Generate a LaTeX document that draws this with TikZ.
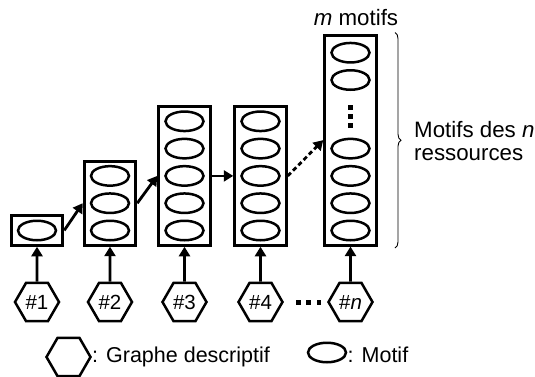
\documentclass[tikz,border=0pt]{standalone}
\usepackage{fontspec}
\setmainfont{Liberation Sans}
\usetikzlibrary{shapes.geometric,arrows.meta,decorations.pathreplacing}
\begin{document}
\begin{tikzpicture}[x=1pt,y=-1pt,
  box/.style={draw,rectangle,line width=3pt,minimum width=51.5pt,inner sep=0pt},
  motif/.style={draw,ellipse,line width=2.5pt,minimum width=38pt,minimum height=19.5pt,inner sep=0pt},
  hexa/.style={draw,regular polygon,regular polygon sides=6,minimum size=44pt,inner sep=0pt,line width=2.5pt,font=\fontsize{20.5}{24}\selectfont},
  arr/.style={line width=2.8pt,-{Triangle[width=11pt,length=9.5pt]}},
  lbl/.style={font=\fontsize{21.5}{24}\selectfont,inner sep=0pt},
  biglbl/.style={font=\fontsize{22.3}{22.5}\selectfont,inner sep=0pt}
]
\useasboundingbox (0,0) rectangle (535,376);

% boxes
\node[box,minimum height=29.7pt]  (b1) at (37,230.4) {};
\node[box,minimum height=84pt] (b2) at (110,203.2) {};
\node[box,minimum height=138.7pt] (b3) at (184.5,175.9) {};
\node[box,minimum height=138.7pt] (b4) at (260.5,175.9) {};
\node[box,minimum height=210pt] (bn) at (350.5,140.1) {};

% motifs in boxes
\node[motif] (e10) at (37,230.5) {};
\foreach \k in {0,1,2} \node[motif] (e2\k) at (110,230.5-27.3*\k) {};
\foreach \k in {0,1,2,3,4} \node[motif] (e3\k) at (184.5,230.5-27.3*\k) {};
\foreach \k in {0,1,2,3,4} \node[motif] (e4\k) at (260.5,230.5-27.3*\k) {};
\foreach \k in {0,1,2,3} \node[motif] (en\k) at (350.5,230.5-27.3*\k) {};
\node[motif] (en5) at (350.5,80) {};
\node[motif] (en6) at (350.5,52.7) {};
\foreach \y in {107.5,116.5,125.5} \fill (348.3,\y-2.2) rectangle ++(4.4,4.4);

% hexagons
\node[hexa] (h1) at (37,302) {\#1};
\node[hexa] (h2) at (110,302) {\#2};
\node[hexa] (h3) at (184.5,302) {\#3};
\node[hexa] (h4) at (260.5,302) {\#4};
\node[hexa] (hn) at (350.5,302) {\#\textit{n}};
\foreach \x in {298.5,308.7,319} \fill (\x-2.4,300.1) rectangle ++(4.8,4.8);

% arrows
\draw[arr] (h1.north) -- (b1.south);
\draw[arr] (h2.north) -- (b2.south);
\draw[arr] (h3.north) -- (b3.south);
\draw[arr] (h4.north) -- (b4.south);
\draw[arr] (hn.north) -- (bn.south);
\draw[arr] (b1.east) -- (b2.west);
\draw[arr] (b2.east) -- (b3.west);
\draw[arr] (b3.east) -- (b4.west);
\draw[arr,dash pattern=on 4.5pt off 3pt] (b4.east) -- (bn.west);

% labels
\node[biglbl,anchor=base] (mm) at (356,25) {\textit{m} motifs};
\coordinate (bt) at (395,32.5);
\coordinate (bb) at (395,248);
\draw[decorate,decoration={brace,amplitude=6pt},line width=0.9pt] (bt) -- (bb);
\node[biglbl,align=left,anchor=west] (lab) at (414,141) {Motifs des \textit{n}\\ressources};

% legend
\node[hexa] (lh) at (68.5,357) {};
\node[lbl,anchor=base west] (lht) at (92,362) {: Graphe descriptif};
\node[motif] (le) at (327,352.5) {};
\node[lbl,anchor=base west] (let) at (347.5,362) {: Motif};
\end{tikzpicture}
\end{document}
